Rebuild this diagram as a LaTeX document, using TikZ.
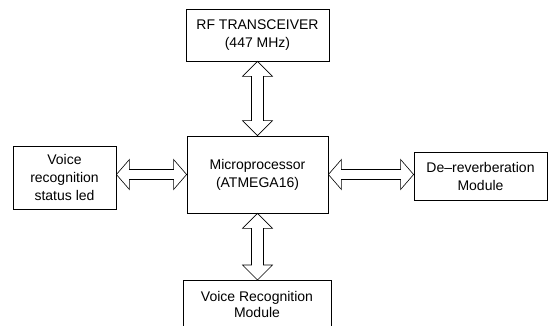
\documentclass[tikz,border=0pt]{standalone}
\usepackage{fontspec}
\setmainfont{Liberation Sans}
\usetikzlibrary{calc}
\tikzset{
  box/.style={draw, line width=0.8pt, align=center, inner sep=0pt, font=\fontsize{14}{18}\selectfont},
  label text/.style={align=center, inner sep=0pt, font=\fontsize{14}{16}\selectfont},
  fatarrow/.style={draw, line width=0.6pt, fill=white, line join=miter}
}
\newcommand{\vdarr}[2]{%
  \draw[fatarrow] let \p1=(#1), \p2=(#2) in
    (\x1,\y1) -- (\x1+15pt,\y1-15pt) -- (\x1+6pt,\y1-15pt) -- (\x1+6pt,\y2+15pt)
    -- (\x1+15pt,\y2+15pt) -- (\x1,\y2) -- (\x1-15pt,\y2+15pt) -- (\x1-6pt,\y2+15pt)
    -- (\x1-6pt,\y1-15pt) -- (\x1-15pt,\y1-15pt) -- cycle;}
\newcommand{\hdarr}[2]{%
  \draw[fatarrow] let \p1=(#1), \p2=(#2) in
    (\x1,\y1) -- (\x1+13pt,\y1+15pt) -- (\x1+13pt,\y1+5pt) -- (\x2-13pt,\y1+5pt)
    -- (\x2-13pt,\y1+15pt) -- (\x2,\y1) -- (\x2-13pt,\y1-15pt) -- (\x2-13pt,\y1-5pt)
    -- (\x1+13pt,\y1-5pt) -- (\x1+13pt,\y1-15pt) -- cycle;}
\begin{document}
\begin{tikzpicture}[x=1pt, y=-1pt]
\useasboundingbox (0,0) rectangle (550,325);
\node[box, minimum width=143pt, minimum height=52pt] (rf) at (257.5,35) {RF TRANSCEIVER\\(447 MHz)};
\node[box, minimum width=141pt, minimum height=77pt] (mp) at (257.5,174.5) {Microprocessor\\(ATMEGA16)};
\node[box, minimum width=103pt, minimum height=63pt] (lb) at (64.5,177.5) {Voice\\recognition\\status led};
\node[box, minimum width=133pt, minimum height=48pt] (rb) at (480.5,176) {De--reverberation\\Module};
\node[label text] (vr) at (257,304) {Voice Recognition\\Module};
\coordinate (vrtop) at (257,280);
\draw[line width=0.8pt] (183,326) -- (183,280) -- (331,280) -- (331,326);
\vdarr{rf.south}{mp.north}
\vdarr{mp.south}{vrtop}
\hdarr{mp.west -| lb.east}{mp.west}
\hdarr{mp.east}{mp.east -| rb.west}
\end{tikzpicture}
\end{document}
